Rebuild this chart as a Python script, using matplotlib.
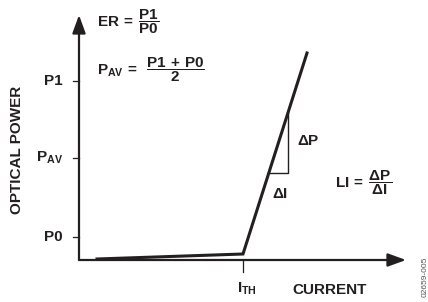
import matplotlib
matplotlib.use('Agg')
import matplotlib.pyplot as plt

# laser LI curve (arbitrary units)
current = [18, 164, 228]
power = [1, 6, 207]
i_th = 164
p0, p_av, p1 = 23, 102, 179
power_ticks = [p0, p_av, p1]
power_labels = ['P0', r'P$_{\mathregular{AV}}$', 'P1']
# small slope triangle on the steep part
tri_i = [190, 209]
tri_p = [87, 147]
x_end, y_end = 327, 245

plt.rcParams['font.family'] = ['Liberation Sans', 'DejaVu Sans']
plt.rcParams['font.weight'] = 'bold'
plt.rcParams['mathtext.fontset'] = 'custom'
plt.rcParams['mathtext.rm'] = 'Liberation Sans:bold'
plt.rcParams['mathtext.it'] = 'Liberation Sans:bold'
plt.rcParams['mathtext.bf'] = 'Liberation Sans:bold'
plt.rcParams['mathtext.sf'] = 'Liberation Sans:bold'

fig = plt.figure(figsize=(4.28, 3.02), dpi=100)
ax = fig.add_axes([0, 0, 1, 1])
ax.set_xlim(-79, 349)
ax.set_ylim(-42, 260)
ax.axis('off')

fs = 11
col = '#231f20'

# axes with arrows
arr = dict(arrowstyle='-|>,head_length=1.1,head_width=0.4', color=col, lw=1.6,
           shrinkA=0, shrinkB=0)
ax.annotate('', xy=(0, y_end), xytext=(0, 0), arrowprops=arr)
ax.annotate('', xy=(x_end, 0), xytext=(0, 0), arrowprops=arr)

# ticks
for p in power_ticks:
    ax.plot([-6, 0], [p, p], color=col, lw=0.9)
ax.plot([i_th, i_th], [0, -12], color=col, lw=0.9)

ax.plot(current, power, color=col, lw=2.2, solid_joinstyle='miter')
ax.plot([tri_i[0], tri_i[1], tri_i[1]], [tri_p[0], tri_p[0], tri_p[1]], color=col, lw=1.0)

for p, lab in zip(power_ticks, power_labels):
    ax.text(-16, p, lab, ha='right', va='center', fontsize=fs, color=col)

ax.text(-62, 110, 'OPTICAL POWER', rotation=90, ha='center', va='center', fontsize=fs, color=col)
ax.text(168, -29, r'I$_{\mathregular{TH}}$', ha='center', va='center', fontsize=fs, color=col)
ax.text(251, -30, 'CURRENT', ha='center', va='center', fontsize=fs, color=col)
ax.text(218, 119, r'$\Delta$P', ha='left', va='center', fontsize=fs, color=col)
ax.text(201, 66, r'$\Delta$I', ha='center', va='center', fontsize=fs, color=col)

ax.text(18, 238, r'$ER\,=\;\dfrac{P1}{P0}$', ha='left', va='center', fontsize=fs, color=col)
ax.text(18, 190, r'$P_{AV}\,=\;\;\dfrac{P1\,+\,P0}{2}$', ha='left', va='center', fontsize=fs, color=col)
ax.text(256, 77, r'$LI\,=\;\dfrac{\Delta P}{\Delta I}$', ha='left', va='center', fontsize=fs, color=col)

ax.text(346, -17, '02659-005', rotation=90, ha='center', va='center', fontsize=6,
        fontweight='normal', color='#555555')

fig.savefig('out.png', dpi=100)
